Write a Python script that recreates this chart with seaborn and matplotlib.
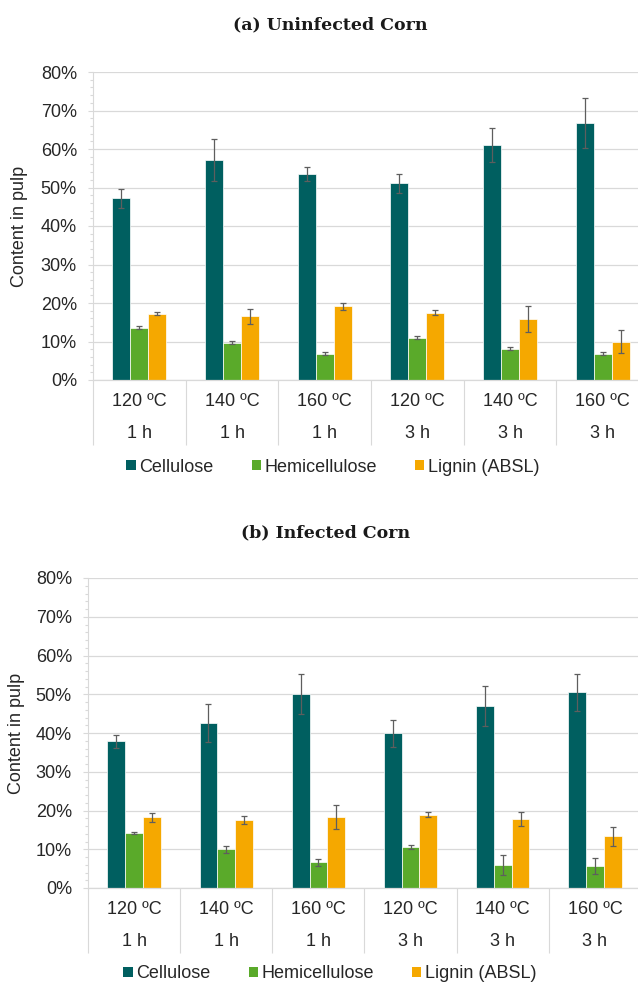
import numpy as np
import pandas as pd
import matplotlib
matplotlib.use("Agg")
import matplotlib.pyplot as plt
from matplotlib.ticker import MultipleLocator, PercentFormatter
from matplotlib.patches import Patch
import seaborn as sns

# Pretreatment conditions
temps = ["120 ºC", "140 ºC", "160 ºC", "120 ºC", "140 ºC", "160 ºC"]
times = ["1 h", "1 h", "1 h", "3 h", "3 h", "3 h"]
components = ["Cellulose", "Hemicellulose", "Lignin (ABSL)"]
colors = ["#005F60", "#5AAA2A", "#F5A800"]

# (a) Uninfected corn: content in pulp (%) and standard deviations
cellulose_a = [47.2, 57.1, 53.4, 51.1, 61.0, 66.7]
hemicellulose_a = [13.6, 9.7, 6.8, 11.0, 8.1, 6.8]
lignin_a = [17.2, 16.5, 19.1, 17.5, 15.8, 10.0]
cellulose_a_sd = [2.5, 5.5, 1.8, 2.4, 4.5, 6.5]
hemicellulose_a_sd = [0.4, 0.4, 0.4, 0.3, 0.4, 0.4]
lignin_a_sd = [0.4, 2.0, 0.8, 0.6, 3.3, 2.9]

# (b) Infected corn
cellulose_b = [37.9, 42.6, 50.0, 39.9, 47.0, 50.5]
hemicellulose_b = [14.2, 10.0, 6.6, 10.6, 5.9, 5.7]
lignin_b = [18.3, 17.5, 18.3, 18.9, 17.8, 13.3]
cellulose_b_sd = [1.7, 5.0, 5.2, 3.45, 5.15, 4.85]
hemicellulose_b_sd = [0.35, 0.95, 0.8, 0.55, 2.5, 2.0]
lignin_b_sd = [1.15, 1.1, 3.0, 0.7, 1.9, 2.4]

sns.set_theme(style="white")
plt.rcParams["font.family"] = ["Liberation Sans", "DejaVu Sans"]

TEXT = "#262626"
GRID = "#D9D9D9"
PX = 72 / 100  # points per pixel at 100 dpi

fig = plt.figure(figsize=(6.38, 9.84), dpi=100)


def make_frame(means, sds):
    rows = []
    for comp, vals, errs in zip(components, means, sds):
        for i, (v, e) in enumerate(zip(vals, errs)):
            rows.append({"condition": f"{temps[i]} {times[i]} #{i}", "idx": i,
                         "component": comp, "value": v, "sd": e})
    return pd.DataFrame(rows)


def draw_panel(rect, title, title_xy, ylabel_x, legend_xy, means, sds):
    ax = fig.add_axes(rect)
    df = make_frame(means, sds)
    order = [f"{temps[i]} {times[i]} #{i}" for i in range(len(temps))]
    sns.barplot(data=df, x="condition", y="value", hue="component",
                order=order, hue_order=components, palette=colors,
                width=0.58, errorbar=None, legend=False, ax=ax,
                edgecolor="white", linewidth=0.5, saturation=1)

    # error bars at each bar centre
    for cont, comp in zip(ax.containers, components):
        sub = df[df.component == comp].sort_values("idx")
        xs = [b.get_x() + b.get_width() / 2 for b in cont]
        ax.errorbar(xs, sub["value"].values, yerr=sub["sd"].values, fmt="none",
                    ecolor="#5E5E5E", elinewidth=0.9, capsize=2.0,
                    capthick=0.9, zorder=5)

    ax.set_xlim(-0.5, 5.5)
    ax.set_ylim(0, 80)
    ax.yaxis.set_major_locator(MultipleLocator(10))
    ax.yaxis.set_minor_locator(MultipleLocator(2))
    ax.yaxis.set_major_formatter(PercentFormatter(xmax=100, decimals=0))
    ax.yaxis.grid(True, which="major", color=GRID, linewidth=0.9)
    ax.set_axisbelow(True)
    ax.tick_params(axis="y", which="major", left=True, length=5 * PX,
                   width=0.8, color=GRID, pad=8, labelsize=13,
                   labelcolor=TEXT)
    ax.tick_params(axis="y", which="minor", left=True, length=3 * PX,
                   width=0.8, color=GRID)

    # category separators below the axis
    ax.set_xticks(np.arange(-0.5, 6, 1), labels=[""] * 7)
    ax.tick_params(axis="x", which="major", bottom=True, length=65 * PX,
                   width=0.8, color=GRID, direction="out")
    for i, (t, h) in enumerate(zip(temps, times)):
        ax.annotate(t, xy=(i, 0), xycoords=("data", "axes fraction"),
                    xytext=(0, -21.5 * PX), textcoords="offset points",
                    ha="center", va="center", fontsize=13, color=TEXT)
        ax.annotate(h, xy=(i, 0), xycoords=("data", "axes fraction"),
                    xytext=(0, -53.5 * PX), textcoords="offset points",
                    ha="center", va="center", fontsize=13, color=TEXT)

    ax.set_xlabel("")
    ax.set_ylabel("")
    for side in ("top", "right"):
        ax.spines[side].set_visible(False)
    ax.spines["left"].set_color(GRID)
    ax.spines["left"].set_linewidth(0.8)
    ax.spines["bottom"].set_color(GRID)
    ax.spines["bottom"].set_linewidth(0.9)

    fig.text(ylabel_x, rect[1] + rect[3] / 2, "Content in pulp", rotation=90,
             ha="center", va="center", fontsize=13, color=TEXT)
    fig.text(title_xy[0], title_xy[1], title, ha="center", va="center",
             fontsize=12.5, fontweight="bold", family="DejaVu Serif",
             color="#1A1A1A")

    handles = [Patch(facecolor=c, edgecolor="none") for c in colors]
    fig.legend(handles, components, loc="center", bbox_to_anchor=legend_xy,
               ncol=3, frameon=False, fontsize=13, handlelength=0.52,
               handleheight=0.52, handletextpad=0.2, columnspacing=2.1,
               labelcolor=TEXT)
    return ax


W, H = 638, 984
draw_panel([93 / W, 1 - 380 / H, (649 - 93) / W, 308 / H],
           "(a) Uninfected Corn", (330 / W, 1 - 25 / H), 20 / W,
           (333 / W, 1 - 467 / H),
           [cellulose_a, hemicellulose_a, lignin_a],
           [cellulose_a_sd, hemicellulose_a_sd, lignin_a_sd])
draw_panel([88 / W, 1 - 888 / H, (641 - 88) / W, 310 / H],
           "(b) Infected Corn", (326 / W, 1 - 533 / H), 17 / W,
           (330 / W, 1 - 974 / H),
           [cellulose_b, hemicellulose_b, lignin_b],
           [cellulose_b_sd, hemicellulose_b_sd, lignin_b_sd])

fig.savefig("out.png", dpi=100)
